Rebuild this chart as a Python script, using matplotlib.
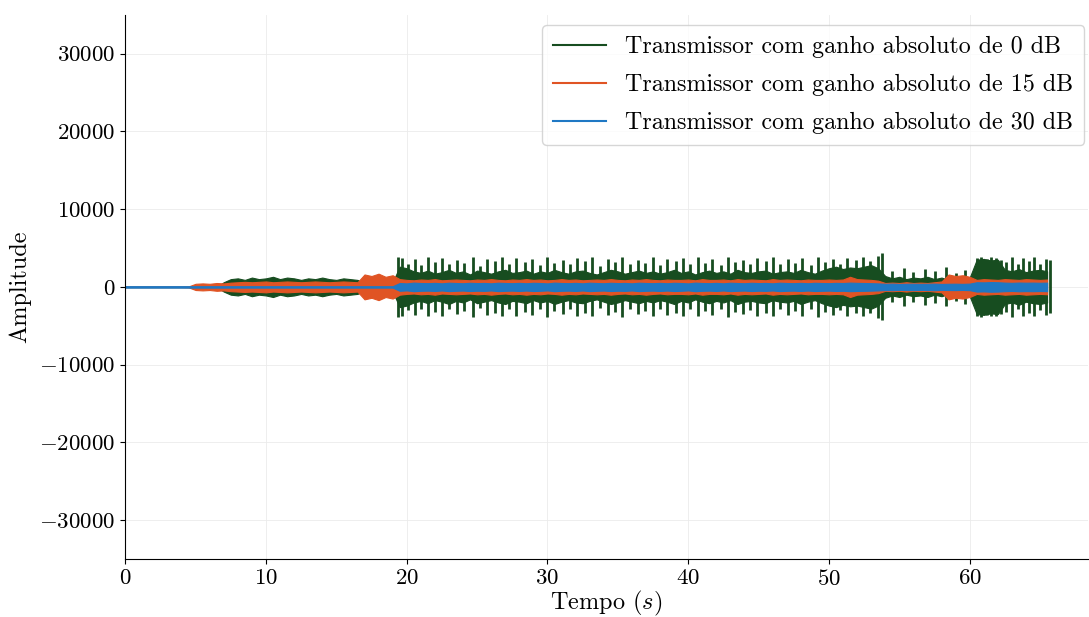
import numpy as np
import matplotlib
matplotlib.use("Agg")
import matplotlib.pyplot as plt
from matplotlib.lines import Line2D

plt.rcParams['font.family'] = 'serif'
plt.rcParams['font.serif'] = ['cmr10']
plt.rcParams['mathtext.fontset'] = 'cm'
plt.rcParams['axes.formatter.use_mathtext'] = True
plt.rcParams['axes.unicode_minus'] = False

passo = 0.5
verde = ([30] * 14 + [600] +
         [1000, 1100, 900, 1200, 1000, 1100, 1300, 1000, 1200, 1100,
          900, 1100, 1000, 1200, 1000, 900, 1100, 1000, 900] +
         [500, 400, 400, 500, 600] +
         [2600, 2400, 2000, 1800, 2100, 1700, 1900, 2200, 1800, 2000,
          1600, 2100, 1900, 1700, 2000, 2200, 1800, 1900, 2100, 1700,
          2000, 1800, 2200, 1900, 1700, 2000, 2100, 1800, 1600, 1900,
          2200, 2000, 1700, 1900, 2100, 1800, 2000, 1700, 1900, 2200,
          1800, 2000, 1600, 1900, 2100, 1800, 2000, 1700, 2200, 1900,
          1800, 2000, 2100, 1700, 1900, 2000, 1800, 2200, 1900, 1700,
          2100, 2400, 2600, 2300, 2500, 2400, 2600, 2800, 2400] +
         [1400, 1100, 1300, 1000, 1200, 1100, 1300, 1000, 1200, 900, 1100, 1000, 1200] +
         [3500, 3600, 3400, 3500, 2200, 2000, 2300, 1900, 2100, 2200, 2000])

laranja = ([30] * 9 + [60] +
           [400, 450, 400, 500, 450, 550, 600, 650, 600, 650, 700, 600,
            650, 700, 650, 600, 650, 700, 650, 600, 650, 700, 650, 600] +
           [1600, 1400, 1700, 1300, 1500] +
           [1000, 900, 850, 950, 900, 1000, 850, 900, 950, 900,
            850, 950, 900, 1000, 900, 850, 950, 900, 1000, 900,
            950, 850, 900, 1000, 900, 950, 850, 900, 950, 900,
            1000, 900, 850, 950, 900, 1000, 900, 850, 950, 900,
            900, 950, 850, 1000, 900, 900, 950, 850, 1000, 900,
            950, 900, 850, 1000, 900, 950, 900, 850, 950, 900,
            900, 950, 900, 950, 1300, 1000, 950, 900, 800] +
           [500, 550, 500, 600, 500, 550, 500, 600, 700, 1600, 1400, 1500, 1300] +
           [900, 1000, 950, 900, 1000, 950, 900, 1000, 950, 900, 950])

azul = ([90] * 39 +
        [500, 450, 550, 500, 480, 520, 460, 540, 500, 470,
         530, 490, 510, 460, 540, 500, 480, 520, 470, 530,
         500, 450, 550, 500, 480, 520, 460, 540, 500, 470,
         530, 490, 510, 460, 540, 500, 480, 520, 470, 530,
         500, 450, 550, 500, 480, 520, 460, 540, 500, 470,
         530, 490, 510, 460, 540, 500, 480, 520, 470, 530,
         500, 480, 520, 500, 550, 520, 500, 480, 450] +
        [400, 420, 380, 400, 410, 390, 400, 420, 380, 400, 410, 390, 420] +
        [600, 580, 620, 600, 550, 520, 560, 540, 550, 530, 550])

# spikes of the 0 dB signal
pico_t = [19.4, 19.7, 20.1, 20.6, 21.0, 21.5, 22.0, 22.5, 23.0, 23.6,
          24.1, 24.7, 25.2, 25.7, 26.3, 26.8, 27.3, 27.8, 28.4, 28.9,
          29.5, 30.0, 30.5, 31.1, 31.6, 32.1, 32.7, 33.2, 33.7, 34.3,
          34.8, 35.3, 35.9, 36.4, 36.9, 37.5, 38.0, 38.5, 39.1, 39.6,
          40.1, 40.7, 41.2, 41.7, 42.3, 42.8, 43.3, 43.9, 44.4, 44.9,
          45.5, 46.0, 46.5, 47.1, 47.6, 48.1, 48.7, 49.2, 49.7, 50.3,
          50.8, 51.3, 51.9, 52.4, 52.9, 53.5, 53.8,
          54.5, 55.3, 56.0, 56.8, 57.5, 58.3, 59.0, 59.7,
          60.5, 60.8, 61.2, 61.5, 61.9, 62.2, 62.6, 63.0, 63.4, 63.8,
          64.2, 64.6, 65.0, 65.4, 65.7]
pico_v = [3900, 3700, 3000, 3600, 2800, 3800, 3200, 3700, 2900, 3500,
          3100, 3900, 2700, 3600, 3300, 3800, 2900, 3700, 3200, 3600,
          2800, 3900, 3100, 3500, 2900, 3700, 3300, 3800, 2700, 3600,
          3200, 3900, 2900, 3500, 3100, 3800, 2800, 3600, 3300, 3700,
          2900, 3800, 3100, 3600, 2800, 3900, 3200, 3500, 3000, 3700,
          3300, 3800, 2900, 3600, 3100, 3700, 2800, 3900, 3200, 3600,
          3000, 3700, 3400, 3800, 3300, 4000, 4300,
          2000, 2400, 1900, 2300, 2100, 2500, 1800, 2200,
          3700, 3900, 3600, 3800, 3700, 3500, 3200, 3900, 2900, 3700,
          3300, 3800, 3000, 3600, 3400]

rotulos = ['Transmissor com ganho absoluto de 0 dB',
           'Transmissor com ganho absoluto de 15 dB',
           'Transmissor com ganho absoluto de 30 dB']
cores = ['#174d20', '#e05424', '#1f78c4']

fig = plt.figure(figsize=(10.89, 6.17), dpi=100)
ax = fig.add_axes([0.115, 0.094, 0.884, 0.882])

for serie, cor in zip([verde, laranja, azul], cores):
    a = np.array(serie, dtype=float)
    t = np.arange(len(a)) * passo
    ax.fill_between(t, -a, a, color=cor, lw=0.8, zorder=2)
    if cor == cores[0]:
        ax.vlines(pico_t, -np.array(pico_v), pico_v, color=cor, lw=2.0, zorder=2)

ax.set_xlim(0, 68.4)
ax.set_ylim(-35000, 35000)
ax.set_yticks([-30000, -20000, -10000, 0, 10000, 20000, 30000])
ax.set_xticks([0, 10, 20, 30, 40, 50, 60])
ax.tick_params(labelsize=16.5)
ax.grid(True, color='#ebebeb', lw=0.6)
ax.set_axisbelow(True)
ax.spines['top'].set_visible(False)
ax.spines['right'].set_visible(False)

ax.set_xlabel(r'Tempo ($s$)', fontsize=17.5, labelpad=0)
ax.set_ylabel('Amplitude', fontsize=17.5, labelpad=6)

handles = [Line2D([], [], color=c, lw=1.5) for c in cores]
ax.legend(handles, rotulos, loc='upper right', bbox_to_anchor=(1.0, 0.987),
          fontsize=17.3, handlelength=2.2, labelspacing=0.65, borderpad=0.45,
          borderaxespad=0.15, handletextpad=0.8)

fig.savefig('out.png', dpi=100)
